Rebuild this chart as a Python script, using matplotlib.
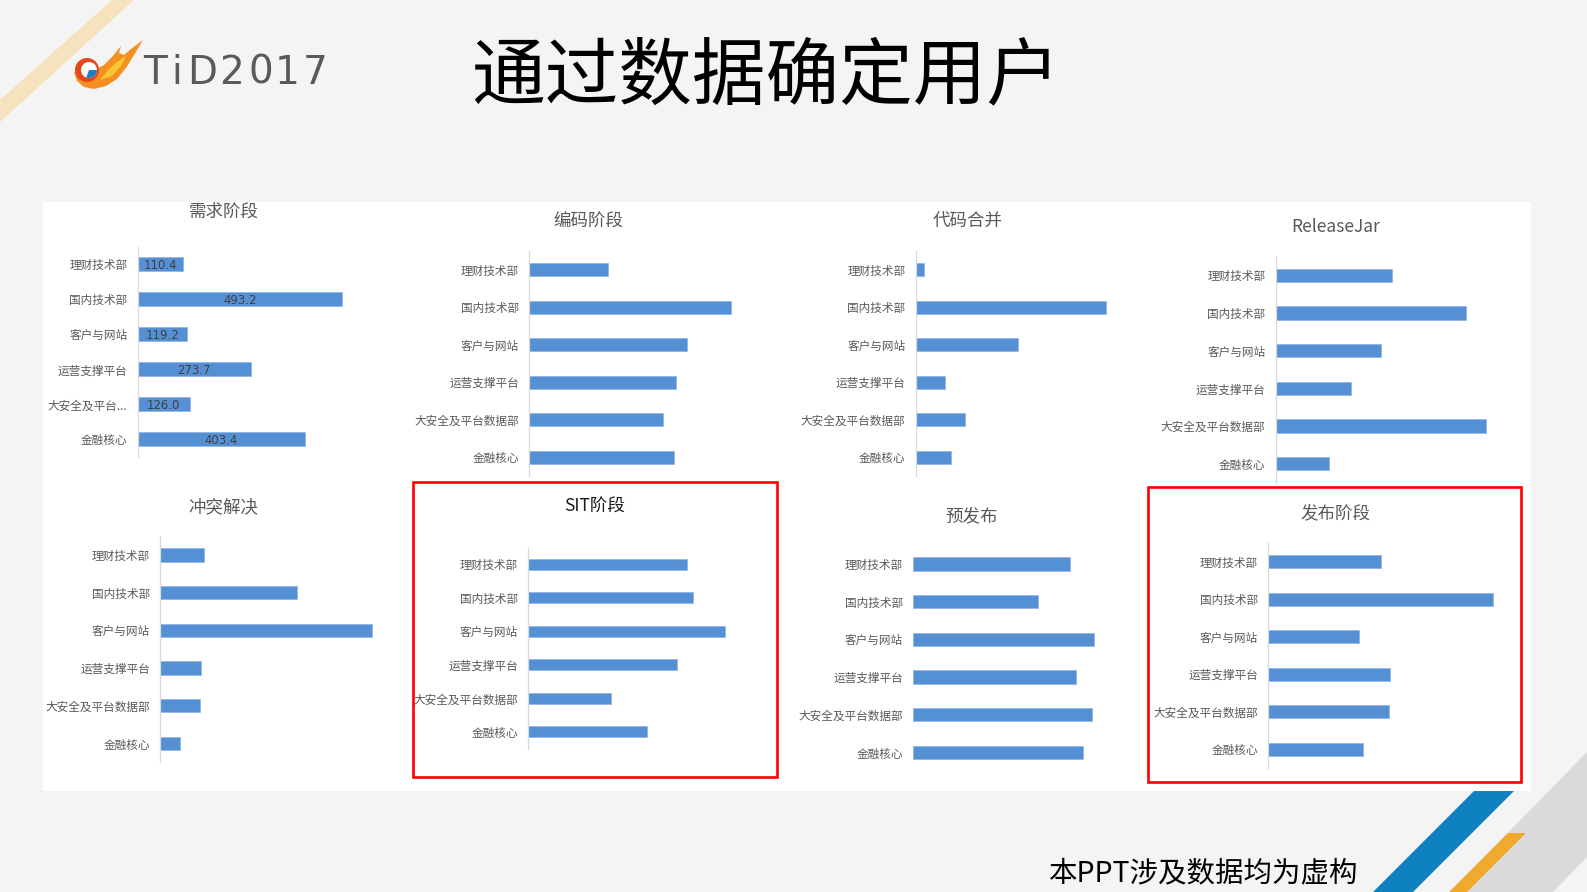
import matplotlib.pyplot as plt
from matplotlib.patches import Polygon, Rectangle, Circle, Wedge

plt.rcParams['font.family'] = ['Noto Sans CJK SC', 'DejaVu Sans']

W, H = 1587, 892

# data
departments = ["理财技术部", "国内技术部", "客户与网站", "运营支撑平台", "大安全及平台数据部", "金融核心"]
short_departments = ["理财技术部", "国内技术部", "客户与网站", "运营支撑平台", "大安全及平台...", "金融核心"]
stage_titles = ["需求阶段", "编码阶段", "代码合并", "ReleaseJar", "冲突解决", "SIT阶段", "预发布", "发布阶段"]

req_vals = [110.4, 493.2, 119.2, 273.7, 126.0, 403.4]
code_vals = [190, 487, 382, 354, 324, 350]
merge_vals = [20, 460, 248, 71, 118, 85]
release_jar_vals = [282, 459, 254, 182, 508, 128]
conflict_vals = [106, 330, 512, 98, 96, 48]
sit_vals = [384, 399, 475, 360, 200, 287]
pre_release_vals = [379, 300, 436, 393, 432, 411]
release_vals = [273, 542, 218, 293, 292, 228]

series = [req_vals, code_vals, merge_vals, release_jar_vals,
          conflict_vals, sit_vals, pre_release_vals, release_vals]

PX = 0.414  # pixels per unit, same for every panel
BLUE = '#5590D5'
GRAY = '#595959'

# layout: axis x, first bar centre, row spacing, bar thickness (px), title x, title y
layout = [
    (137.7, 264.3, 35.0, 14.0, 224, 212),
    (529.3, 269.7, 37.5, 12.7, 588, 221),
    (915.7, 269.7, 37.5, 12.7, 968, 221),
    (1275.7, 275.3, 37.7, 13.3, 1336, 227),
    (160.3, 555.0, 37.7, 13.3, 223, 507),
    (528.3, 564.3, 33.5, 11.3, 595, 507),
    (913.3, 564.0, 37.7, 13.3, 972, 516),
    (1268.3, 561.7, 37.5, 13.3, 1335, 513),
]

fig = plt.figure(figsize=(W / 100, H / 100), dpi=100)
fig.patch.set_facecolor('#F4F4F4')

bg = fig.add_axes([0, 0, 1, 1])
bg.set_xlim(0, W)
bg.set_ylim(H, 0)
bg.axis('off')

# decorations
bg.add_patch(Polygon([(112, 0), (134, 0), (0, 122), (0, 100)], closed=True, fc='#F7E2BE', ec='none'))
bg.add_patch(Polygon([(1450, 892), (1587, 752), (1587, 857), (1553, 892)], closed=True, fc='#DADADA', ec='none'))
bg.add_patch(Polygon([(1373, 892), (1413, 892), (1514, 791), (1474, 791)], closed=True, fc='#0E82BE', ec='none'))
bg.add_patch(Polygon([(1449, 892), (1467, 892), (1526, 833), (1508, 833)], closed=True, fc='#F0A92E', ec='none'))

# logo
bg.add_patch(Polygon([(74, 72), (77, 81), (84, 87), (94, 89), (106, 86), (117, 79), (126, 68),
                      (134, 55), (143, 40), (131, 49), (124, 55), (119, 53), (121, 46), (112, 57),
                      (104, 65), (95, 70), (86, 73), (79, 73)], closed=True, fc='#F3901F', ec='none'))
bg.add_patch(Polygon([(100, 80), (112, 76), (121, 66), (126, 56), (117, 62), (108, 70)],
                     closed=True, fc='#F8C734', ec='none'))
bg.add_patch(Circle((87, 70), 12, fc='#E4471E', ec='none'))
bg.add_patch(Circle((89, 70), 8, fc='white', ec='none'))
bg.add_patch(Wedge((89, 70), 8, 0, 110, fc='#1F7FC0', ec='none'))
for ch, cx in zip("TiD2017", [155, 177, 202, 232, 261, 287, 315]):
    bg.text(cx, 84, ch, fontsize=28, color='#5A5A5A', ha='center', va='baseline',
            family='DejaVu Sans')

bg.text(766, 78, "通过数据确定用户", fontsize=53, color='black', ha='center', va='center',
        fontweight='light')
bg.text(1204, 873, "本PPT涉及数据均为虚构", fontsize=20.5, color='black', ha='center', va='center')

# white panel and red highlight frames
bg.add_patch(Rectangle((43.3, 202), 1530.7 - 43.3, 790.7 - 202, fc='white', ec='none'))
bg.add_patch(Rectangle((413.3, 482.3), 776.7 - 413.3, 777.3 - 482.3, fc='none', ec='#FF0000', lw=1.9))
bg.add_patch(Rectangle((1148.3, 487.3), 1521 - 1148.3, 781.7 - 487.3, fc='none', ec='#FF0000', lw=1.9))

AXW = 240
for i, (vals, (ax_x, c0, sp, bh, tx, ty)) in enumerate(zip(series, layout)):
    top = c0 - sp / 2
    bottom = c0 + 5.5 * sp
    ax = fig.add_axes([ax_x / W, 1 - bottom / H, AXW / W, (bottom - top) / H])
    ax.patch.set_visible(False)
    bars = ax.barh(range(6), vals, height=bh / sp, color=BLUE, edgecolor='#8CB3E6', linewidth=0.5)
    ax.set_xlim(0, AXW / PX)
    ax.set_ylim(5.5, -0.5)
    labels = short_departments if i == 0 else departments
    ax.set_yticks(range(6), labels, fontsize=8.4, color=GRAY)
    ax.tick_params(axis='y', length=0, pad=7.5)
    ax.set_xticks([])
    for s in ['top', 'right', 'bottom']:
        ax.spines[s].set_visible(False)
    ax.spines['left'].set_color('#D9D9D9')
    ax.spines['left'].set_linewidth(0.9)
    if i == 6:
        ax.spines['left'].set_visible(False)
    if i == 0:
        for k, v in enumerate(vals):
            ax.text(v / 2, k, f"{v:.1f}", fontsize=8.4, color='#404040', ha='center',
                    va='center_baseline', family='DejaVu Sans')
    tcolor = '#1A1A1A' if i == 5 else GRAY
    bg.text(tx, ty, stage_titles[i], fontsize=12.6, color=tcolor, ha='center', va='center')

fig.savefig('out.png', dpi=100, facecolor=fig.get_facecolor())
